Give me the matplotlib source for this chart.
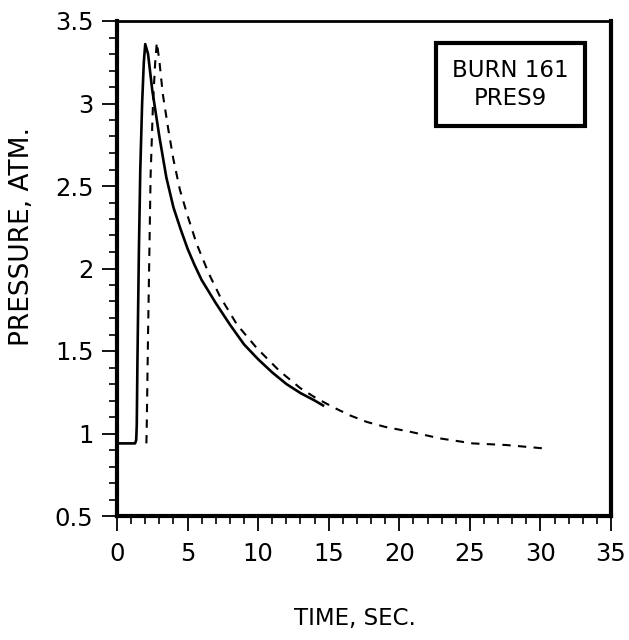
import matplotlib
matplotlib.use("Agg")
import matplotlib.pyplot as plt
from matplotlib.ticker import MultipleLocator

# Measured pressure trace (solid) and computed trace (dashed)
t_meas = [0.0, 1.28, 1.36, 1.40, 1.45, 1.55, 1.65, 1.78, 1.90, 2.00, 2.20,
          2.50, 3.00, 3.50, 4.00, 4.50, 5.00, 5.50, 6.00, 7.00, 8.00, 9.00,
          10.0, 11.0, 12.0, 13.0, 14.0, 14.6]
p_meas = [0.94, 0.94, 0.96, 1.05, 1.45, 2.10, 2.60, 3.00, 3.25, 3.36, 3.30,
          3.08, 2.80, 2.55, 2.37, 2.24, 2.12, 2.02, 1.93, 1.79, 1.66, 1.54,
          1.45, 1.37, 1.30, 1.245, 1.20, 1.17]

t_calc = [2.08, 2.10, 2.20, 2.38, 2.55, 2.70, 2.82, 3.00, 3.24, 3.64, 4.00,
          4.46, 5.00, 5.64, 6.50, 7.30, 8.50, 9.90, 11.5, 12.97, 14.0, 15.3,
          16.5, 17.7, 19.0, 20.8, 22.9, 25.2, 27.6, 30.2]
p_calc = [0.94, 1.00, 1.60, 2.56, 3.00, 3.24, 3.37, 3.26, 3.06, 2.84, 2.66,
          2.476, 2.32, 2.15, 1.97, 1.83, 1.66, 1.518, 1.38, 1.276, 1.22, 1.16,
          1.11, 1.07, 1.04, 1.01, 0.97, 0.94, 0.93, 0.91]

x_ticks = [0, 5, 10, 15, 20, 25, 30, 35]
y_ticks = [0.5, 1, 1.5, 2, 2.5, 3, 3.5]
y_tick_labels = ["0.5", "1", "1.5", "2", "2.5", "3", "3.5"]

plt.rcParams["font.family"] = ["DejaVu Sans"]

fig = plt.figure(figsize=(6.29, 6.40), dpi=100)
ax = fig.add_axes([117 / 629, 1 - 516 / 640, (611 - 117) / 629, (516 - 21) / 640])

ax.plot(t_meas, p_meas, color="black", lw=1.9, solid_joinstyle="round")
ax.plot(t_calc, p_calc, color="black", lw=1.5, linestyle=(0, (4.0, 3.5)))

ax.set_xlim(0, 35)
ax.set_ylim(0.5, 3.5)
ax.set_xticks(x_ticks)
ax.set_yticks(y_ticks)
ax.set_yticklabels(y_tick_labels)
ax.xaxis.set_minor_locator(MultipleLocator(1))
ax.yaxis.set_minor_locator(MultipleLocator(0.1))

ax.tick_params(which="major", direction="out", length=11, width=1.3,
               labelsize=17.5, color="black")
ax.tick_params(axis="x", which="major", pad=8)
ax.tick_params(axis="y", which="major", pad=6)
ax.tick_params(which="minor", direction="out", length=6, width=1.2)

for side in ("left", "bottom", "right"):
    ax.spines[side].set_linewidth(3.0)
ax.spines["top"].set_linewidth(2.0)

fig.text(355 / 629, 1 - 618 / 640, "TIME, SEC.", ha="center", va="center",
         fontsize=16.5)
fig.text(22 / 629, 1 - 236 / 640, "PRESSURE, ATM.", ha="center", va="center",
         rotation=90, fontsize=19)

ax.text(0.797, 0.872, "BURN 161\nPRES9", transform=ax.transAxes,
        ha="center", va="center", fontsize=16.5, linespacing=1.25,
        bbox=dict(boxstyle="square,pad=0.7", fc="white", ec="black", lw=3.0))

fig.savefig("out.png", dpi=100)
